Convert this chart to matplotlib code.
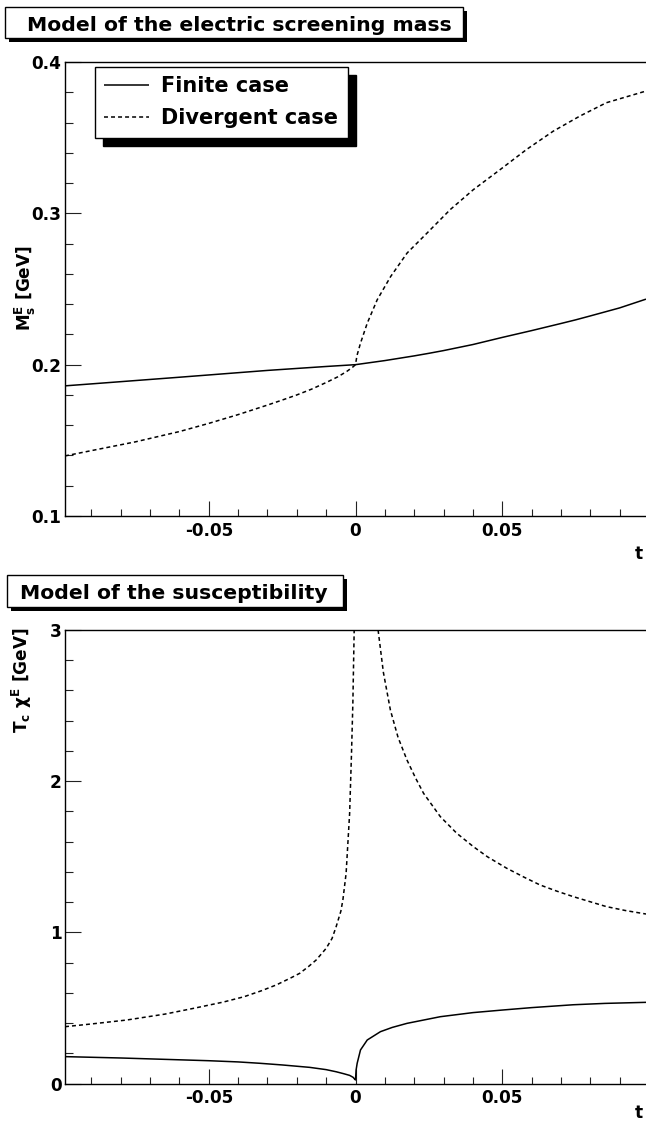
import matplotlib
matplotlib.use('Agg')
import matplotlib.pyplot as plt
from matplotlib.patches import Rectangle
from matplotlib.ticker import MultipleLocator

plt.rcParams['font.family'] = ['DejaVu Sans']
plt.rcParams['font.weight'] = 'bold'
plt.rcParams['mathtext.fontset'] = 'custom'
plt.rcParams['mathtext.rm'] = 'DejaVu Sans:bold'
plt.rcParams['mathtext.it'] = 'DejaVu Sans:bold'
plt.rcParams['mathtext.bf'] = 'DejaVu Sans:bold'
plt.rcParams['axes.unicode_minus'] = False

# ---------------- data ----------------
titles = ["Model of the electric screening mass", "Model of the susceptibility"]
legend_labels = ["Finite case", "Divergent case"]
ylabels = [r"M$_{s}^{E}$ [GeV]", r"T$_{c}$ $\chi^{E}$ [GeV]"]
xlabel = "t"

xticks = [-0.05, 0.0, 0.05]
xtick_labels = ["-0.05", "0", "0.05"]
yticks_top = [0.1, 0.2, 0.3, 0.4]
ytick_labels_top = ["0.1", "0.2", "0.3", "0.4"]
yticks_bot = [0, 1, 2, 3]
ytick_labels_bot = ["0", "1", "2", "3"]

# top panel: electric screening mass
t_mass_fin = [-0.099, -0.09, -0.075, -0.06, -0.05, -0.04, -0.03, -0.02, -0.01, 0.0,
              0.01, 0.02, 0.025, 0.03, 0.04, 0.05, 0.06, 0.07, 0.075, 0.08, 0.09, 0.099]
m_mass_fin = [0.1860, 0.1873, 0.1895, 0.1917, 0.1932, 0.1947, 0.1962, 0.1975, 0.1988, 0.2000,
              0.2027, 0.2058, 0.2075, 0.2093, 0.2133, 0.2180, 0.2225, 0.2272, 0.2296, 0.2322, 0.2375, 0.2433]

t_mass_div = [-0.099, -0.09, -0.075, -0.06, -0.05, -0.04, -0.03, -0.025, -0.02, -0.015, -0.01,
              -0.006, -0.003, -0.001, 0.0, 0.0005, 0.0017, 0.004, 0.0074, 0.012, 0.0176, 0.0244,
              0.0323, 0.0402, 0.0493, 0.0583, 0.0674, 0.0764, 0.0855, 0.099]
m_mass_div = [0.1397, 0.1432, 0.1490, 0.1558, 0.1612, 0.1670, 0.1733, 0.1766, 0.1800, 0.1838, 0.1882,
              0.1920, 0.1955, 0.1983, 0.2000, 0.2060, 0.2142, 0.2274, 0.2429, 0.2583, 0.2738, 0.2870,
              0.3025, 0.3157, 0.3289, 0.3422, 0.3543, 0.3642, 0.3731, 0.3808]

# bottom panel: susceptibility
t_chi_fin = [-0.099, -0.08, -0.065, -0.05, -0.04, -0.0326, -0.025, -0.0156, -0.01, -0.0066, -0.004,
             -0.002, -0.0008, -0.0002, 0.0, 0.0002, 0.00057, 0.0017, 0.004, 0.0085, 0.0125, 0.01755,
             0.0289, 0.04, 0.05, 0.06, 0.0742, 0.085, 0.099]
c_chi_fin = [0.179, 0.170, 0.161, 0.152, 0.144, 0.135, 0.124, 0.108, 0.093, 0.079, 0.066,
             0.055, 0.042, 0.028, 0.025, 0.090, 0.135, 0.223, 0.289, 0.344, 0.372, 0.399,
             0.443, 0.470, 0.487, 0.503, 0.522, 0.531, 0.538]

t_chi_div_neg = [-0.099, -0.09, -0.078, -0.065, -0.055, -0.045, -0.038, -0.032, -0.027, -0.022, -0.019,
                 -0.016, -0.0134, -0.01, -0.008, -0.0066, -0.005, -0.0043, -0.0032, -0.002, -0.00136,
                 -0.0009, -0.00045]
c_chi_div_neg = [0.377, 0.395, 0.421, 0.460, 0.499, 0.540, 0.575, 0.615, 0.653, 0.700, 0.730,
                 0.775, 0.818, 0.895, 0.960, 1.038, 1.140, 1.215, 1.391, 1.788, 2.185,
                 2.516, 3.000]
t_chi_div_pos = [0.0077, 0.0095, 0.0119, 0.0145, 0.01755, 0.0205, 0.0232, 0.0289, 0.0345, 0.0402, 0.045,
                 0.0515, 0.0575, 0.0629, 0.0685, 0.0742, 0.08, 0.0855, 0.092, 0.099]
c_chi_div_pos = [3.000, 2.720, 2.470, 2.290, 2.140, 2.020, 1.920, 1.766, 1.656, 1.567, 1.500,
                 1.425, 1.365, 1.314, 1.274, 1.237, 1.203, 1.171, 1.145, 1.122]

xlim = (-0.099, 0.099)

# ---------------- figure ----------------
W, H = 646, 1127
fig = plt.figure(figsize=(W / 100, H / 100), dpi=100)


def fx(px):
    return px / W


def fy(py):
    return 1 - py / H


ax1 = fig.add_axes([fx(65), fy(516), fx(646) - fx(65), fy(62) - fy(516)])
ax2 = fig.add_axes([fx(65), fy(1083.7), fx(646) - fx(65), fy(630) - fy(1083.7)])

LW = 1.1
DASH = (0, (2.6, 2.0))

l1, = ax1.plot(t_mass_fin, m_mass_fin, color='black', lw=LW, solid_capstyle='butt')
l2, = ax1.plot(t_mass_div, m_mass_div, color='black', lw=LW, linestyle=DASH)

ax2.plot(t_chi_fin, c_chi_fin, color='black', lw=LW)
ax2.plot(t_chi_div_neg, c_chi_div_neg, color='black', lw=LW, linestyle=DASH)
ax2.plot(t_chi_div_pos, c_chi_div_pos, color='black', lw=LW, linestyle=DASH)

for ax, yt, ytl, ylim, ymin in [(ax1, yticks_top, ytick_labels_top, (0.1, 0.4), 0.02),
                                 (ax2, yticks_bot, ytick_labels_bot, (0, 3), 0.2)]:
    ax.set_xlim(*xlim)
    ax.set_ylim(*ylim)
    ax.set_xticks(xticks)
    ax.set_xticklabels(xtick_labels)
    ax.set_yticks(yt)
    ax.set_yticklabels(ytl)
    ax.xaxis.set_minor_locator(MultipleLocator(0.01))
    ax.yaxis.set_minor_locator(MultipleLocator(ymin))
    ax.spines['right'].set_visible(False)
    for s in ['left', 'bottom', 'top']:
        ax.spines[s].set_linewidth(1.0)
    ax.tick_params(axis='both', which='both', direction='in', top=False, right=False,
                   width=0.8, color='#222222', labelsize=12.2)
    ax.tick_params(axis='x', which='major', length=10.8, pad=4.0)
    ax.tick_params(axis='x', which='minor', length=5.0)
    ax.tick_params(axis='y', which='major', length=11.5, pad=2.6)
    ax.tick_params(axis='y', which='minor', length=5.8)
    for lab in ax.get_xticklabels() + ax.get_yticklabels():
        lab.set_fontweight('bold')

# legend with solid black shadow
leg = ax1.legend(handles=[l1, l2], labels=legend_labels, loc='upper left',
                 bbox_to_anchor=(fx(95), fy(67)), bbox_transform=fig.transFigure,
                 borderaxespad=0, fancybox=False, framealpha=1, edgecolor='black',
                 prop={'size': 15, 'weight': 'bold'}, handlelength=2.16, handletextpad=0.58,
                 labelspacing=0.58, borderpad=0.45,
                 shadow={'ox': 5.8, 'oy': -5.8, 'facecolor': 'black', 'edgecolor': 'black', 'alpha': 1})
leg.get_frame().set_linewidth(1.0)


# title boxes with shadow
def title_box(x0, y0, x1, y1, text, tx, tbase, off=4):
    fig.add_artist(Rectangle((fx(x0 + off), fy(y1 + off)), fx(x1 - x0), (y1 - y0) / H,
                             transform=fig.transFigure, facecolor='black', edgecolor='none'))
    fig.add_artist(Rectangle((fx(x0), fy(y1)), fx(x1 - x0), (y1 - y0) / H,
                             transform=fig.transFigure, facecolor='white', edgecolor='black', lw=1.0))
    fig.text(fx(tx), fy(tbase), text, ha='center', va='baseline', fontsize=14.7, fontweight='bold')


title_box(5, 7, 463, 38, titles[0], 239.5, 31)
title_box(7, 575, 343, 607, titles[1], 173.5, 599)

# axis titles
fig.text(fx(25), fy(288), ylabels[0], rotation=90, ha='center', va='center', fontsize=12.2, fontweight='bold')
fig.text(fx(22), fy(627), ylabels[1], rotation=90, ha='center', va='top', fontsize=12.2, fontweight='bold')
fig.text(fx(643), fy(559), xlabel, ha='right', va='baseline', fontsize=12.2, fontweight='bold')
fig.text(fx(643), fy(1118), xlabel, ha='right', va='baseline', fontsize=12.2, fontweight='bold')

fig.savefig('out.png', dpi=100)
